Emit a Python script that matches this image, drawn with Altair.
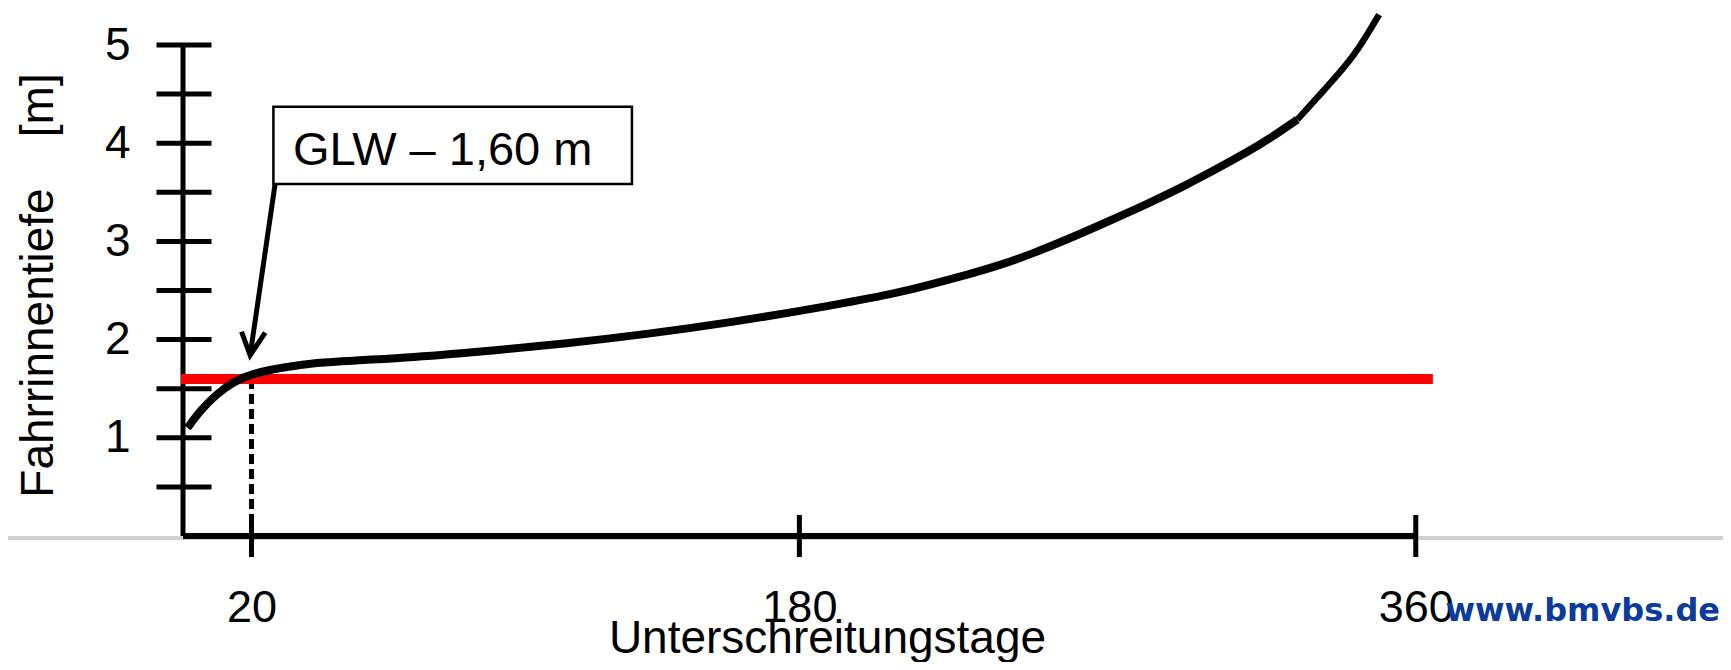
import altair as alt
import pandas as pd

# ---- data ----
curve_x = [1.3, 5.1, 9.9, 14.8, 19.7, 29.4, 39.2, 48.9, 63.5, 87.8, 112, 136.5, 160.8, 185.1,
           209.6, 219.2, 229, 238.8, 248.4, 258.2, 268, 277.7, 282.6, 292.2, 302, 311.8, 316.6, 325.4]
curve_y = [1.10, 1.28, 1.45, 1.57, 1.65, 1.72, 1.765, 1.785, 1.81, 1.88, 1.96, 2.06, 2.18, 2.32,
           2.48, 2.57, 2.66, 2.76, 2.88, 3.02, 3.17, 3.32, 3.40, 3.56, 3.74, 3.93, 4.03, 4.24]
upper_x = [325.4, 334.2, 342, 349.3]
upper_y = [4.24, 4.58, 4.88, 5.31]

glw_level = [1.6]
glw_range = [0, 365]
glw_day = [20]

x_tick_values = [20, 180, 360]
y_tick_values = [0.5, 1, 1.5, 2, 2.5, 3, 3.5, 4, 4.5, 5]
y_label_values = [1, 2, 3, 4, 5]
x_axis_end = [360]
y_axis_end = [5]

box_x = [26.4, 131.1]
box_y = [4.372, 3.585]
box_text = ["GLW \u2013 1,60 m"]
box_text_pos = [32.1, 3.78]
arrow_tail = [26.9, 3.585]
arrow_tip = [19.6, 1.84]
arrow_head_x = [17.1, 19.6, 24.0]
arrow_head_y = [2.08, 1.84, 2.07]

x_title = "Unterschreitungstage"
y_title = "Fahrrinnentiefe\u00a0\u00a0\u00a0\u00a0[m]"
watermark = "www.bmvbs.de"

W, H = 1267, 528
FONT = "Liberation Sans"

xs = alt.Scale(domain=[0, 370], nice=False, zero=False)
ys = alt.Scale(domain=[0, 5.377], nice=False, zero=False)

XAX = alt.Axis(
    values=x_tick_values, domain=False, ticks=False, tickSize=0, grid=False,
    labelFontSize=45, labelPadding=49, labelColor="black", labelFont=FONT,
    labelFlush=False, labelOverlap=False,
    title=x_title, titleFontSize=46, titleFont=FONT, titleFontWeight="normal",
    titleColor="black", titleX=644, titleY=116, titleAlign="center",
    titleBaseline="alphabetic")
YAX = alt.Axis(
    values=y_label_values, domain=False, ticks=False, tickSize=0, grid=False,
    labelFontSize=46, labelPadding=53, labelColor="black", labelFont=FONT,
    labelFlush=False, labelOverlap=False,
    title=y_title, titleFontSize=46, titleFont=FONT, titleFontWeight="normal",
    titleColor="black", titleAngle=270, titleX=-145, titleY=277,
    titleAlign="center", titleBaseline="middle")


def X(f):
    return alt.X(f, scale=xs, axis=XAX)


def Y(f):
    return alt.Y(f, scale=ys, axis=YAX)


# gray slide line across the whole width
gray = alt.Chart(pd.DataFrame({"y": [0]})).mark_rule(
    color="#d0d0d0", strokeWidth=4, yOffset=2).encode(
    x=alt.value(-200), x2=alt.value(W + 400), y=Y("y:Q"))

# axis lines
yaxis_line = alt.Chart(pd.DataFrame({"x": [0], "y0": [0], "y1": y_axis_end})).mark_rule(
    color="black", strokeWidth=5, strokeCap="butt").encode(
    x=X("x:Q"), y=Y("y0:Q"), y2="y1:Q")
xaxis_line = alt.Chart(pd.DataFrame({"y": [0], "x0": [0], "x1": x_axis_end})).mark_rule(
    color="black", strokeWidth=6, strokeCap="butt").encode(
    y=Y("y:Q"), x=X("x0:Q"), x2="x1:Q")

yticks = alt.Chart(pd.DataFrame({"v": y_tick_values, "x": [0] * len(y_tick_values)})).mark_tick(
    orient="horizontal", color="black", opacity=1, size=55, thickness=5, xOffset=1).encode(
    y=Y("v:Q"), x=X("x:Q"))
xticks = alt.Chart(pd.DataFrame({"v": x_tick_values, "y": [0] * len(x_tick_values)})).mark_tick(
    orient="vertical", color="black", opacity=1, size=42, thickness=5).encode(
    x=X("v:Q"), y=Y("y:Q"))

dashed = alt.Chart(pd.DataFrame({"x": glw_day, "y0": glw_level, "y1": [0]})).mark_rule(
    color="black", strokeWidth=5, strokeDash=[10, 5], strokeCap="butt").encode(
    x=X("x:Q"), y=Y("y0:Q"), y2="y1:Q")

red = alt.Chart(pd.DataFrame({"y": glw_level, "x0": [glw_range[0]], "x1": [glw_range[1]]})).mark_rule(
    color="#ff0000", strokeWidth=10, strokeCap="butt", xOffset=-2).encode(
    y=Y("y:Q"), x=X("x0:Q"), x2="x1:Q")

curve = alt.Chart(pd.DataFrame({"x": curve_x, "y": curve_y})).mark_line(
    color="black", strokeWidth=8, interpolate="basis", strokeCap="butt").encode(
    x=X("x:Q"), y=Y("y:Q"))
upper = alt.Chart(pd.DataFrame({"x": upper_x, "y": upper_y})).mark_line(
    color="black", strokeWidth=6.5, interpolate="basis", strokeCap="butt").encode(
    x=X("x:Q"), y=Y("y:Q"))

shaft = alt.Chart(pd.DataFrame({"x": [arrow_tail[0]], "y": [arrow_tail[1]],
                                "x2": [arrow_tip[0]], "y2": [arrow_tip[1]]})).mark_rule(
    color="black", strokeWidth=5).encode(
    x=X("x:Q"), y=Y("y:Q"), x2="x2:Q", y2="y2:Q")
head = alt.Chart(pd.DataFrame({"x": arrow_head_x, "y": arrow_head_y, "o": [0, 1, 2]})).mark_line(
    color="black", strokeWidth=5, strokeJoin="miter").encode(
    x=X("x:Q"), y=Y("y:Q"), order="o:Q")

box = alt.Chart(pd.DataFrame({"x": [box_x[0]], "x2": [box_x[1]],
                              "y": [box_y[0]], "y2": [box_y[1]]})).mark_rect(
    fill="white", stroke="black", strokeWidth=2.5).encode(
    x=X("x:Q"), x2="x2:Q", y=Y("y:Q"), y2="y2:Q")
box_label = alt.Chart(pd.DataFrame({"x": [box_text_pos[0]], "y": [box_text_pos[1]],
                                    "t": box_text})).mark_text(
    align="left", baseline="alphabetic", fontSize=47, font=FONT, color="black").encode(
    x=X("x:Q"), y=Y("y:Q"), text="t:N")

wm = alt.Chart(pd.DataFrame({"t": [watermark]})).mark_text(
    align="right", baseline="alphabetic", fontSize=32, font="DejaVu Sans",
    fontWeight="bold", color="#0b3b9b").encode(
    x=alt.value(1537), y=alt.value(613), text="t:N")

chart = alt.layer(
    gray, dashed, yaxis_line, xaxis_line, yticks, xticks, red, curve, upper,
    shaft, head, box, box_label, wm
).properties(
    width=W, height=H,
    autosize=alt.AutoSizeParams(type="none"),
    padding={"left": 175, "top": 0, "right": 273, "bottom": 126},
).configure(font=FONT, background="white").configure_view(stroke=None)

chart.save("out.html", embed_options={"renderer": "svg", "actions": False})
